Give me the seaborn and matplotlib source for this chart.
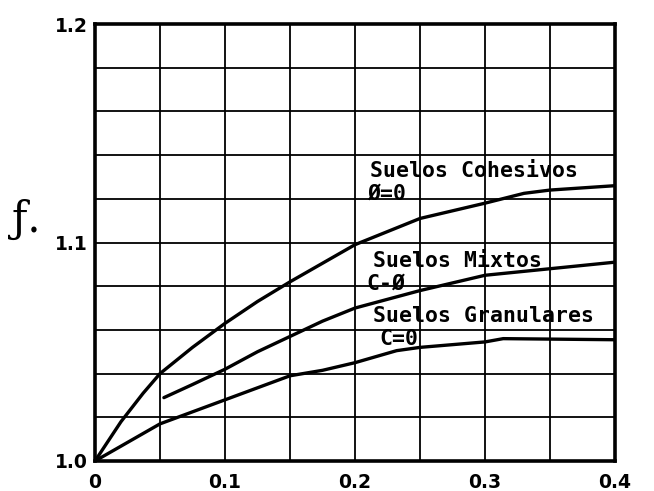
import numpy as np
import pandas as pd
import matplotlib
matplotlib.use("Agg")
import matplotlib.pyplot as plt
import seaborn as sns

# curve values
x_coh = [0, 0.02, 0.037, 0.05, 0.075, 0.10, 0.125, 0.15, 0.175, 0.20, 0.25, 0.30, 0.33, 0.35, 0.40]
y_coh = [1.0, 1.018, 1.031, 1.040, 1.052, 1.063, 1.073, 1.082, 1.0905, 1.099, 1.111, 1.118, 1.1225, 1.124, 1.126]

x_mix = [0.053, 0.075, 0.10, 0.125, 0.15, 0.175, 0.20, 0.25, 0.30, 0.35, 0.40]
y_mix = [1.029, 1.035, 1.042, 1.050, 1.057, 1.064, 1.070, 1.078, 1.085, 1.088, 1.091]

x_gran = [0, 0.05, 0.10, 0.15, 0.175, 0.20, 0.232, 0.25, 0.30, 0.314, 0.40]
y_gran = [1.0, 1.017, 1.028, 1.039, 1.0415, 1.045, 1.0505, 1.052, 1.0545, 1.056, 1.0555]

x_ticks = [0, 0.1, 0.2, 0.3, 0.4]
x_ticklabels = ["0", "0.1", "0.2", "0.3", "0.4"]
y_ticks = [1.0, 1.1, 1.2]
y_ticklabels = ["1.0", "1.1", "1.2"]

# curve labels: (text, x, y)
labels = [
    ("Suelos Cohesivos", 0.2115, 1.1300),
    ("Ø=0", 0.209, 1.1196),
    ("Suelos Mixtos", 0.214, 1.0890),
    ("C-Ø", 0.209, 1.0786),
    ("Suelos Granulares", 0.214, 1.0638),
    ("C=0", 0.219, 1.0530),
]

sns.set_style("white")
plt.rcParams['font.family'] = ['DejaVu Sans']
plt.rcParams['text.color'] = 'black'
plt.rcParams['xtick.color'] = 'black'
plt.rcParams['ytick.color'] = 'black'

fig = plt.figure(figsize=(6.54, 4.91), dpi=100)
ax = fig.add_axes([95 / 654, 1 - 461 / 491, 520 / 654, 437 / 491])

for xs, ys in [(x_coh, y_coh), (x_mix, y_mix), (x_gran, y_gran)]:
    df = pd.DataFrame({"x": xs, "y": ys})
    sns.lineplot(data=df, x="x", y="y", ax=ax, color="black", linewidth=2.4,
                 sort=False, estimator=None, zorder=3)

ax.set_xlim(0, 0.4)
ax.set_ylim(1.0, 1.2)

# grid every 0.05 / 0.02
ax.set_xticks(np.arange(0, 0.401, 0.05), minor=True)
ax.set_yticks(np.arange(1.0, 1.201, 0.02), minor=True)
ax.grid(which="minor", color="black", linewidth=1.3)
ax.grid(which="major", color="black", linewidth=1.3)

ax.set_xticks(x_ticks)
ax.set_xticklabels(x_ticklabels)
ax.set_yticks(y_ticks)
ax.set_yticklabels(y_ticklabels)
ax.tick_params(which="both", length=0)
ax.tick_params(axis="x", pad=9)
ax.tick_params(axis="y", pad=5)
for t in ax.get_xticklabels() + ax.get_yticklabels():
    t.set_fontsize(13.5)
    t.set_fontweight("bold")
    t.set_color("black")

for s in ax.spines.values():
    s.set_color("black")
    s.set_linewidth(2.6)
    s.set_visible(True)

ax.set_xlabel("")
ax.set_ylabel("")

for txt, x, y in labels:
    ax.text(x, y, txt, family="DejaVu Sans Mono", fontsize=15.5, fontweight="bold",
            color="black", va="baseline", ha="left", zorder=4)

fig.text(12 / 654, 1 - 232 / 491, "ƒ.", family="DejaVu Serif", fontsize=30,
         color="black", va="baseline", ha="left")

fig.savefig("out.png", dpi=100)
